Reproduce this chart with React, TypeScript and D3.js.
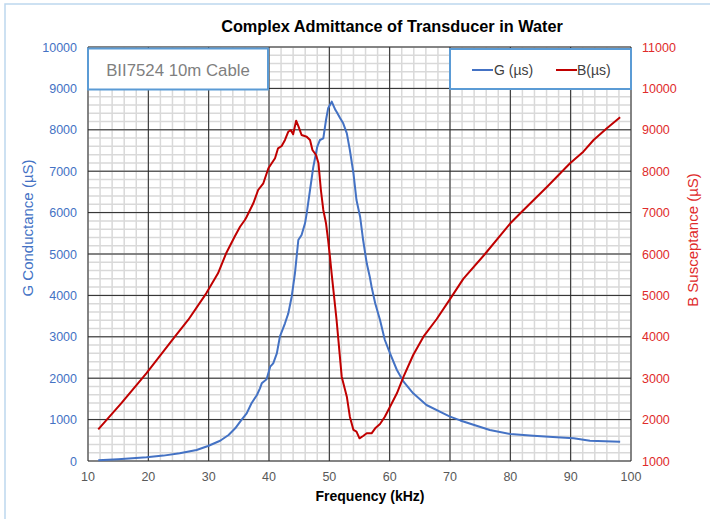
import React from "react";
import * as d3 from "d3";

// ---- Data ----
const gFreq = [11.7, 15, 19.7, 22.5, 25.2, 28.0, 29.9, 31.9, 33.3, 34.4, 35.5, 36.3, 37.1, 38.0, 38.5, 38.8, 39.1, 39.6, 40.2, 40.7, 41.3, 41.8, 42.65, 43.2, 43.76, 44.3, 44.86, 45.4, 45.97, 46.25, 46.8, 47.35, 48.0, 48.45, 49.0, 49.45, 49.8, 50.4, 50.7, 51.0, 51.2, 51.8, 52.3, 52.9, 53.4, 54.0, 54.5, 55.1, 55.6, 56.2, 56.7, 57.0, 57.6, 58.4, 59.2, 60.06, 61.2, 62.3, 63.9, 66.1, 68.9, 70.0, 71.7, 74.4, 76.6, 80.0, 83.8, 87.7, 90.5, 93.2, 98.2];
const gValues = [20, 45, 89, 130, 186, 266, 362, 490, 628, 790, 1007, 1150, 1394, 1594, 1756, 1876, 1916, 1973, 2278, 2360, 2601, 3002, 3326, 3567, 3968, 4534, 5338, 5459, 5741, 5983, 6546, 7109, 7592, 7754, 7794, 8237, 8519, 8680, 8580, 8480, 8437, 8277, 8156, 7915, 7512, 6949, 6304, 5901, 5338, 4775, 4452, 4210, 3809, 3406, 2923, 2601, 2198, 1915, 1635, 1353, 1152, 1071, 980, 853, 749, 652, 611, 572, 548, 490, 466];

const bFreq = [11.7, 15.5, 19.67, 24.4, 26.6, 29.6, 31.55, 32.9, 34.3, 35.2, 36.0, 36.3, 37.4, 38.2, 39.06, 39.9, 40.45, 41.0, 41.5, 42.1, 42.65, 43.2, 43.6, 44.0, 44.5, 44.9, 45.4, 46.25, 46.8, 47.2, 47.8, 48.2, 48.6, 49.0, 49.45, 49.8, 50.1, 50.4, 51.2, 52.05, 52.9, 53.4, 54.0, 54.5, 55.0, 55.6, 56.2, 57.0, 57.6, 58.4, 59.2, 60.06, 61.2, 62.3, 63.9, 65.6, 67.8, 70.0, 72.2, 75.8, 80.0, 81.9, 86.1, 89.9, 92.1, 93.8, 96.0, 98.2];
const bValues = [1766, 2393, 3118, 4002, 4406, 5050, 5534, 6017, 6418, 6659, 6821, 6901, 7225, 7546, 7708, 8070, 8191, 8312, 8553, 8609, 8754, 8954, 8995, 8891, 9220, 9075, 8874, 8833, 8754, 8512, 8391, 8191, 7546, 7063, 6741, 6338, 5935, 5500, 4406, 3036, 2553, 2070, 1749, 1708, 1548, 1604, 1669, 1669, 1790, 1894, 2070, 2312, 2635, 3036, 3560, 4002, 4430, 4910, 5400, 6000, 6741, 7022, 7626, 8191, 8471, 8754, 9036, 9302];

const freqTicks = [10, 20, 30, 40, 50, 60, 70, 80, 90, 100];
const gTicks = [0, 1000, 2000, 3000, 4000, 5000, 6000, 7000, 8000, 9000, 10000];
const bTicks = [1000, 2000, 3000, 4000, 5000, 6000, 7000, 8000, 9000, 10000, 11000];

const title = "Complex Admittance of Transducer in Water";
const boxText = "BII7524 10m Cable";
const gName = "G (µs)";
const bName = "B(µs)";
const xTitle = "Frequency (kHz)";
const gTitle = "G Conductance (µS)";
const bTitle = "B Susceptance (µS)";

const BLUE = "#4472c4";
const RED = "#c00000";
const FONT = "'Liberation Sans', Arial, sans-serif";

export default function App() {
  const L = 88, R = 631, T = 47, B = 461;
  const x = d3.scaleLinear().domain([10, 100]).range([L, R]);
  const yG = d3.scaleLinear().domain([0, 10000]).range([B, T]);
  const yB = d3.scaleLinear().domain([1000, 11000]).range([B, T]);

  const minorX = d3.range(10, 100.01, 2);
  const minorY = d3.range(0, 10000.01, 200);

  const gPts: [number, number][] = gFreq.map((f, i) => [f, gValues[i]]);
  const bPts: [number, number][] = bFreq.map((f, i) => [f, bValues[i]]);
  const gLine = d3.line<[number, number]>().x(d => x(d[0])).y(d => yG(d[1]));
  const bLine = d3.line<[number, number]>().x(d => x(d[0])).y(d => yB(d[1]));

  return (
    <svg width={710} height={519} style={{ position: "absolute", left: 0, top: 0, background: "#fff" }} fontFamily={FONT}>
      <rect x={5} y={4} width={760} height={560} fill="#fff" stroke="#bdd7ee" strokeWidth={1.5} />
      {/* minor grid */}
      {minorX.map(v => (
        <line key={"mx" + v} x1={x(v)} x2={x(v)} y1={T} y2={B} stroke="#d9d9d9" strokeWidth={1.5} />
      ))}
      {minorY.map(v => (
        <line key={"my" + v} x1={L} x2={R} y1={yG(v)} y2={yG(v)} stroke="#d9d9d9" strokeWidth={1.5} />
      ))}
      {/* major grid */}
      {freqTicks.map(v => (
        <line key={"gx" + v} x1={x(v)} x2={x(v)} y1={T} y2={B} stroke="#262626" strokeWidth={1} />
      ))}
      {gTicks.map(v => (
        <line key={"gy" + v} x1={L} x2={R} y1={yG(v)} y2={yG(v)} stroke="#262626" strokeWidth={1} />
      ))}
      {/* series */}
      <path d={gLine(gPts) || ""} fill="none" stroke={BLUE} strokeWidth={2} strokeLinejoin="round" />
      <path d={bLine(bPts) || ""} fill="none" stroke={RED} strokeWidth={2} strokeLinejoin="round" />
      {/* tick labels */}
      {freqTicks.map(v => (
        <text key={"tx" + v} x={x(v)} y={481} textAnchor="middle" fontSize={12.5} fill="#595959">{v}</text>
      ))}
      {gTicks.map(v => (
        <text key={"tg" + v} x={77} y={yG(v) + 4.5} textAnchor="end" fontSize={12.5} fill={BLUE}>{v}</text>
      ))}
      {bTicks.map(v => (
        <text key={"tb" + v} x={642} y={yB(v) + 4.5} textAnchor="start" fontSize={12.5} fill="#e02b2b">{v}</text>
      ))}
      {/* titles */}
      <text x={392} y={32} textAnchor="middle" fontSize={16.3} fontWeight="bold" fill="#000">{title}</text>
      <text x={370} y={501} textAnchor="middle" fontSize={14} fontWeight="bold" fill="#000">{xTitle}</text>
      <text transform={`translate(33,228) rotate(-90)`} textAnchor="middle" fontSize={15} fill={BLUE}>{gTitle}</text>
      <text transform={`translate(698,240) rotate(-90)`} textAnchor="middle" fontSize={15} fill="#e02b2b">{bTitle}</text>
      {/* text box */}
      <rect x={88} y={48.5} width={180} height={41} fill="#fff" stroke="#5b9bd5" strokeWidth={2} />
      <text x={178} y={76} textAnchor="middle" fontSize={16.8} fill="#7f7f7f">{boxText}</text>
      {/* legend */}
      <rect x={450} y={49} width={181} height={40} fill="#fff" stroke="#5b9bd5" strokeWidth={2} />
      <line x1={472} x2={493} y1={70} y2={70} stroke={BLUE} strokeWidth={2} />
      <text x={494} y={75} fontSize={14} fill="#404040">{gName}</text>
      <line x1={556} x2={577} y1={70} y2={70} stroke={RED} strokeWidth={2} />
      <text x={577} y={75} fontSize={14} fill="#404040">{bName}</text>
    </svg>
  );
}
